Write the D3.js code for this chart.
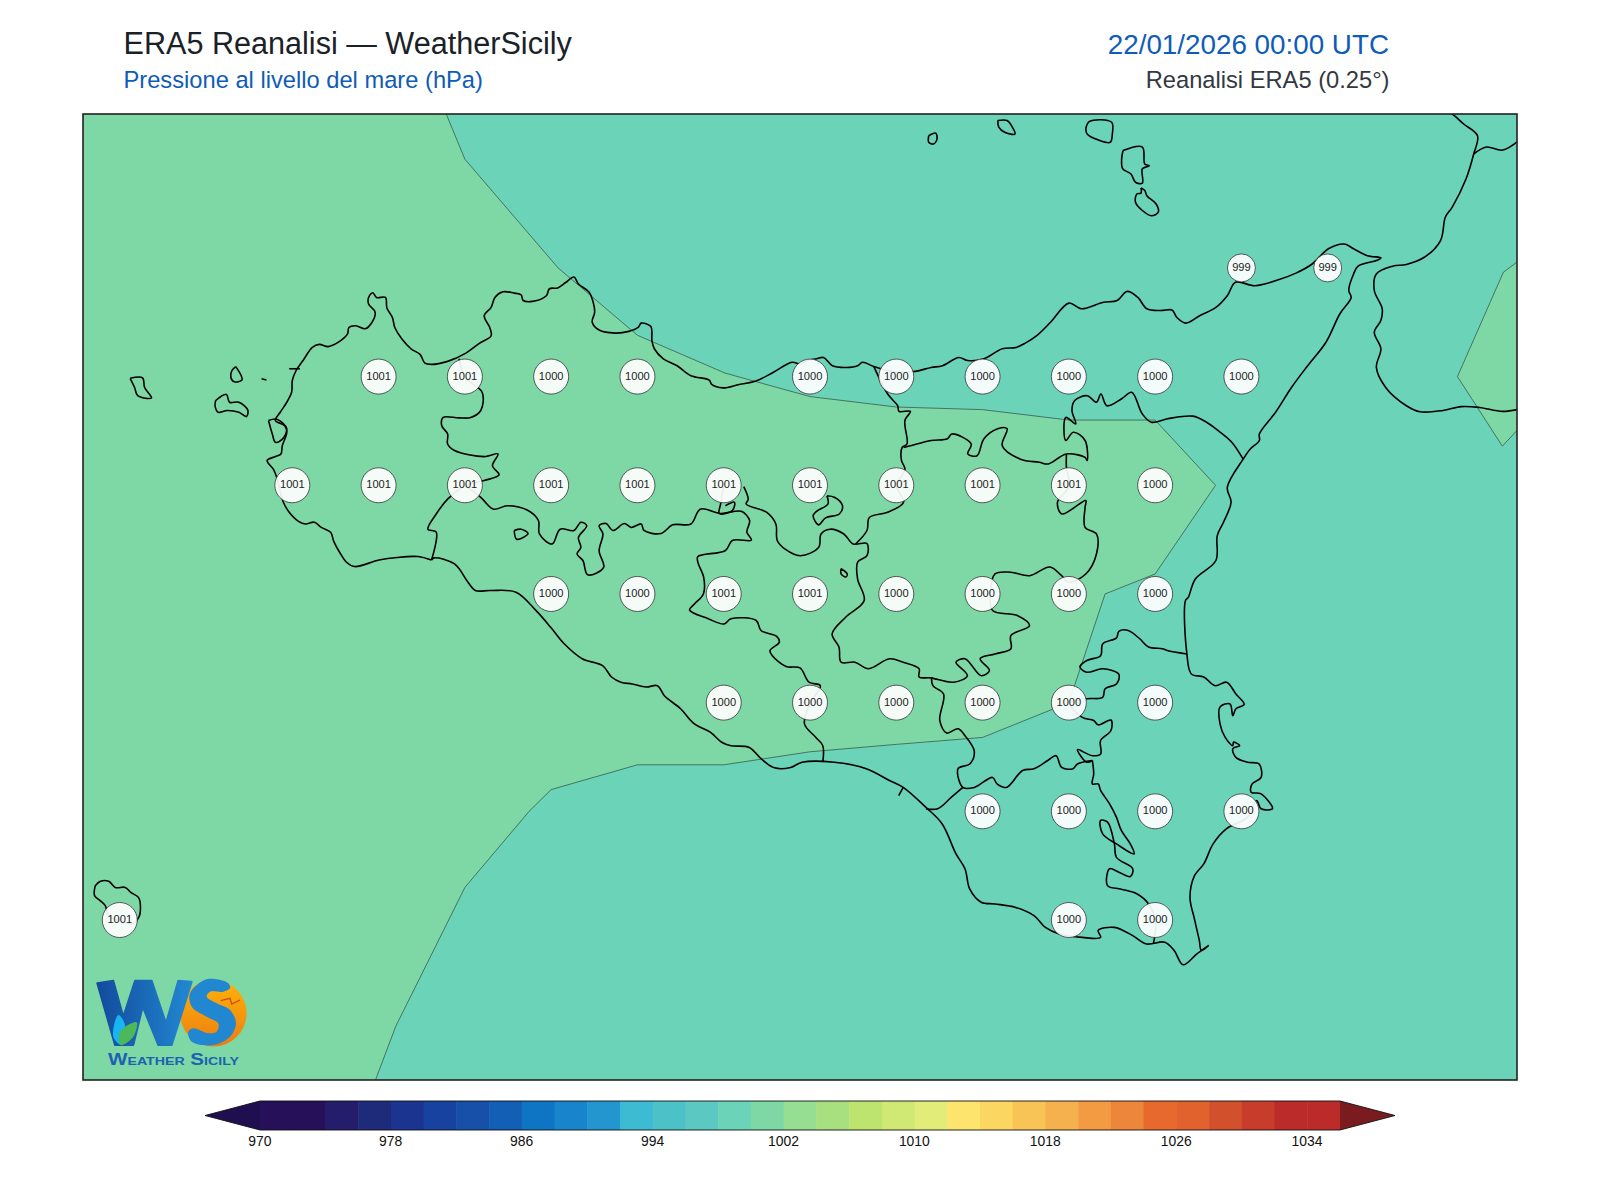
<!DOCTYPE html>
<html>
<head>
<meta charset="utf-8">
<title>ERA5 Reanalisi - WeatherSicily</title>
<script src="https://cdn.jsdelivr.net/npm/d3@7"></script>
<style>
  html, body { margin: 0; padding: 0; background: #fff; }
  text { font-family: "Liberation Sans", Arial, sans-serif; }
</style>
</head>
<body>
<div id="chart"></div>
<script>
// pressure labels on the 0.25 deg grid
const labelLats = [38.25, 38.25,
  38, 38, 38, 38, 38, 38, 38, 38, 38, 38,
  37.75, 37.75, 37.75, 37.75, 37.75, 37.75, 37.75, 37.75, 37.75, 37.75, 37.75,
  37.5, 37.5, 37.5, 37.5, 37.5, 37.5, 37.5, 37.5,
  37.25, 37.25, 37.25, 37.25, 37.25, 37.25,
  37, 37, 37, 37,
  36.75, 36.75, 36.75]
const labelLons = [15.25, 15.5,
  12.75, 13, 13.25, 13.5, 14, 14.25, 14.5, 14.75, 15, 15.25,
  12.5, 12.75, 13, 13.25, 13.5, 13.75, 14, 14.25, 14.5, 14.75, 15,
  13.25, 13.5, 13.75, 14, 14.25, 14.5, 14.75, 15,
  13.75, 14, 14.25, 14.5, 14.75, 15,
  14.5, 14.75, 15, 15.25,
  12, 14.75, 15]
const labelValues = [999, 999,
  1001, 1001, 1000, 1000, 1000, 1000, 1000, 1000, 1000, 1000,
  1001, 1001, 1001, 1001, 1001, 1001, 1001, 1001, 1001, 1001, 1000,
  1000, 1000, 1001, 1001, 1000, 1000, 1000, 1000,
  1000, 1000, 1000, 1000, 1000, 1000,
  1000, 1000, 1000, 1000,
  1001, 1000, 1000]

// 1000 hPa contour, the band above it
const contourWest = [[12.947,38.7],[12.947,38.602],[13,38.5],[13.27,38.25],[13.5,38.095],[13.754,38.008],[14,37.954],[14.25,37.93],[14.5,37.924],[14.75,37.9],[15,37.9],[15.175,37.75],[15,37.546],[14.855,37.5],[14.75,37.25],[14.5,37.17],[14.25,37.154],[14,37.137],[13.75,37.107],[13.5,37.107],[13.25,37.05],[13.186,37],[13,36.825],[12.8,36.506],[12.74,36.38],[12.72,36.3],[11.7,36.3],[11.7,38.7]]
const contourEast = [[16.2,38.35],[16.053,38.266],[16.009,38.24],[15.876,38],[16.006,37.84],[16.053,37.88],[16.2,38]]

const coastSicily = [[12.903,37.578],[12.864,37.586],[12.804,37.584],[12.751,37.578],[12.68,37.563],[12.657,37.573],[12.637,37.596],[12.62,37.621],[12.611,37.642],[12.584,37.653],[12.564,37.665],[12.538,37.661],[12.518,37.667],[12.491,37.688],[12.474,37.711],[12.455,37.768],[12.445,37.787],[12.427,37.807],[12.451,37.816],[12.467,37.822],[12.471,37.841],[12.484,37.872],[12.478,37.887],[12.451,37.899],[12.465,37.918],[12.484,37.941],[12.498,37.964],[12.5,37.991],[12.511,38.014],[12.531,38.037],[12.558,38.067],[12.578,38.074],[12.604,38.069],[12.637,38.081],[12.66,38.098],[12.664,38.113],[12.684,38.117],[12.711,38.11],[12.731,38.125],[12.74,38.148],[12.721,38.167],[12.721,38.182],[12.733,38.193],[12.744,38.182],[12.77,38.182],[12.774,38.158],[12.79,38.136],[12.797,38.113],[12.817,38.087],[12.844,38.064],[12.87,38.051],[12.884,38.031],[12.903,38.028],[12.95,38.035],[13.003,38.054],[13.043,38.077],[13.076,38.094],[13.072,38.113],[13.056,38.14],[13.076,38.159],[13.087,38.182],[13.11,38.195],[13.143,38.192],[13.163,38.188],[13.169,38.175],[13.196,38.173],[13.236,38.186],[13.245,38.202],[13.269,38.204],[13.293,38.217],[13.316,38.229],[13.329,38.213],[13.36,38.194],[13.373,38.167],[13.376,38.148],[13.369,38.125],[13.389,38.107],[13.435,38.1],[13.475,38.104],[13.502,38.113],[13.511,38.123],[13.539,38.115],[13.542,38.083],[13.549,38.064],[13.575,38.041],[13.615,38.025],[13.655,38.002],[13.708,37.992],[13.715,37.982],[13.748,37.974],[13.795,37.982],[13.841,37.989],[13.894,38.01],[13.948,38.033],[13.972,38.029],[13.992,38.037],[14.019,38.041],[14.039,38.044],[14.065,38.025],[14.105,38.021],[14.138,38.025],[14.152,38.033],[14.185,38.023],[14.218,38.015],[14.251,38.01],[14.305,38.012],[14.351,38.021],[14.384,38.025],[14.431,38.044],[14.457,38.037],[14.504,38.041],[14.557,38.064],[14.597,38.067],[14.624,38.077],[14.657,38.094],[14.697,38.125],[14.75,38.169],[14.786,38.156],[14.85,38.171],[14.89,38.175],[14.919,38.196],[14.95,38.182],[14.976,38.156],[15.016,38.152],[15.049,38.153],[15.063,38.136],[15.089,38.123],[15.129,38.14],[15.176,38.159],[15.209,38.186],[15.233,38.217],[15.289,38.209],[15.355,38.222],[15.408,38.238],[15.455,38.259],[15.502,38.294],[15.548,38.305],[15.575,38.294],[15.615,38.278],[15.654,38.273],[15.641,38.267],[15.588,38.254],[15.575,38.236],[15.561,38.198],[15.568,38.182],[15.535,38.144],[15.495,38.079],[15.442,38.025],[15.395,37.975],[15.349,37.918],[15.302,37.868],[15.302,37.853],[15.275,37.833],[15.255,37.81],[15.209,37.745],[15.22,37.711],[15.198,37.665],[15.18,37.634],[15.176,37.577],[15.116,37.534],[15.096,37.492],[15.088,37.485],[15.092,37.362],[15.105,37.316],[15.141,37.309],[15.174,37.289],[15.207,37.297],[15.234,37.27],[15.258,37.246],[15.234,37.236],[15.225,37.22],[15.217,37.247],[15.188,37.24],[15.188,37.201],[15.203,37.17],[15.225,37.151],[15.227,37.159],[15.245,37.151],[15.225,37.144],[15.234,37.124],[15.267,37.113],[15.301,37.109],[15.307,37.078],[15.281,37.063],[15.278,37.044],[15.307,37.04],[15.34,37.006],[15.307,37.006],[15.294,37.025],[15.267,36.986],[15.207,36.96],[15.168,36.925],[15.141,36.879],[15.114,36.852],[15.101,36.802],[15.114,36.752],[15.128,36.703],[15.134,36.68],[15.154,36.691],[15.121,36.672],[15.081,36.647],[15.055,36.68],[15.028,36.699],[14.975,36.695],[14.935,36.714],[14.882,36.733],[14.835,36.726],[14.842,36.71],[14.789,36.71],[14.722,36.718],[14.682,36.733],[14.649,36.76],[14.596,36.779],[14.536,36.787],[14.496,36.791],[14.463,36.821],[14.449,36.868],[14.423,36.902],[14.383,36.971],[14.336,37.009],[14.27,37.055],[14.23,37.071],[14.163,37.098],[14.07,37.113],[13.977,37.113],[13.944,37.101],[13.897,37.1],[13.858,37.121],[13.824,37.147],[13.771,37.151],[13.744,37.159],[13.711,37.182],[13.665,37.201],[13.625,37.236],[13.578,37.266],[13.558,37.289],[13.525,37.286],[13.485,37.293],[13.452,37.297],[13.425,37.309],[13.399,37.335],[13.34,37.351],[13.287,37.386],[13.251,37.421],[13.207,37.461],[13.148,37.504],[13.074,37.508],[13.03,37.508],[13.009,37.527],[12.97,37.569],[12.911,37.583],[12.903,37.578]]

const boundaryTrapani = [[12.983,38.041],[13.001,37.998],[13.05,37.964],[13.046,37.922],[13.017,37.906],[12.983,37.905],[12.937,37.906],[12.933,37.887],[12.95,37.868],[12.95,37.845],[12.97,37.83],[13.056,37.816],[13.096,37.822],[13.08,37.795],[13.099,37.774],[13.056,37.761],[13.001,37.749],[12.95,37.718],[12.917,37.684],[12.893,37.649],[12.917,37.642],[12.903,37.578]]
const boundaryAgrigento = [[13.001,37.749],[13.046,37.722],[13.083,37.695],[13.123,37.703],[13.183,37.692],[13.213,37.669],[13.216,37.638],[13.253,37.615],[13.276,37.649],[13.316,37.646],[13.336,37.665],[13.353,37.657],[13.329,37.63],[13.336,37.607],[13.325,37.592],[13.342,37.577],[13.356,37.544],[13.402,37.561],[13.389,37.599],[13.4,37.638],[13.389,37.657],[13.409,37.662],[13.429,37.646],[13.462,37.662],[13.482,37.653],[13.511,37.661],[13.519,37.646],[13.568,37.639],[13.602,37.659],[13.655,37.661],[13.682,37.695],[13.741,37.685],[13.801,37.69],[13.825,37.669],[13.817,37.642],[13.83,37.624],[13.775,37.623],[13.755,37.6],[13.675,37.586],[13.675,37.573],[13.692,37.538],[13.691,37.5],[13.665,37.477],[13.651,37.463],[13.705,37.443],[13.751,37.431],[13.771,37.443],[13.844,37.439],[13.858,37.416],[13.904,37.402],[13.911,37.389],[13.884,37.37],[13.891,37.358],[13.931,37.333],[13.971,37.33],[13.997,37.297],[14.03,37.289],[14.001,37.249],[13.984,37.201],[14.017,37.17],[14.037,37.151],[14.037,37.113]]
const boundaryStub = [[13.75,37.749],[13.741,37.707],[13.737,37.685],[13.775,37.692],[13.781,37.711],[13.755,37.703]]
const boundaryEnna = [[13.808,37.747],[13.821,37.718],[13.815,37.707],[13.874,37.688],[13.901,37.661],[13.905,37.623],[13.928,37.603],[13.972,37.588],[14.025,37.607],[14.032,37.638],[14.058,37.649],[14.098,37.638],[14.125,37.615],[14.165,37.616],[14.165,37.588],[14.138,37.573],[14.138,37.534],[14.157,37.485],[14.104,37.447],[14.064,37.408],[14.084,37.378],[14.09,37.343],[14.13,37.343],[14.17,37.328],[14.23,37.351],[14.27,37.343],[14.316,37.328],[14.316,37.309],[14.35,37.307],[14.416,37.297],[14.456,37.312],[14.423,37.343],[14.449,37.351],[14.496,37.312],[14.52,37.324],[14.493,37.351],[14.536,37.362],[14.582,37.374],[14.582,37.404],[14.636,37.427],[14.602,37.45],[14.529,37.462],[14.523,37.5],[14.536,37.546],[14.582,37.55],[14.636,37.542],[14.695,37.562],[14.729,37.542],[14.749,37.527],[14.799,37.546],[14.83,37.592],[14.83,37.638],[14.797,37.653],[14.797,37.699],[14.799,37.715],[14.73,37.684],[14.717,37.711],[14.751,37.749],[14.743,37.791],[14.743,37.822]]
const boundaryMadonie = [[14.185,38.023],[14.225,37.96],[14.254,37.933],[14.258,37.92],[14.291,37.92],[14.275,37.899],[14.281,37.845],[14.267,37.837],[14.265,37.807],[14.275,37.787],[14.251,37.749],[14.271,37.711],[14.225,37.688],[14.172,37.676],[14.165,37.646],[14.132,37.615]]
const boundaryMessina = [[14.271,37.837],[14.291,37.841],[14.351,37.853],[14.398,37.857],[14.411,37.868],[14.467,37.845],[14.457,37.822],[14.484,37.818],[14.504,37.857],[14.544,37.88],[14.571,37.88],[14.557,37.841],[14.61,37.81],[14.664,37.803],[14.69,37.799],[14.743,37.822],[14.797,37.814],[14.803,37.807],[14.797,37.853],[14.763,37.872],[14.741,37.853],[14.741,37.906],[14.77,37.891],[14.759,37.922],[14.767,37.945],[14.803,37.956],[14.83,37.941],[14.843,37.96],[14.86,37.933],[14.903,37.949],[14.932,37.964],[14.963,37.914],[14.989,37.895],[15.036,37.903],[15.109,37.909],[15.149,37.895],[15.182,37.876],[15.222,37.849],[15.255,37.81]]
const boundarySiracusa = [[15.092,37.362],[15.035,37.37],[15.021,37.374],[14.981,37.378],[14.955,37.397],[14.922,37.416],[14.895,37.414],[14.888,37.399],[14.848,37.385],[14.842,37.358],[14.802,37.347],[14.782,37.332],[14.802,37.32],[14.848,37.328],[14.895,37.315],[14.888,37.293],[14.855,37.282],[14.848,37.262],[14.802,37.259],[14.751,37.249],[14.789,37.216],[14.822,37.209],[14.835,37.199],[14.872,37.21],[14.872,37.186],[14.842,37.163],[14.842,37.132],[14.818,37.128],[14.775,37.142],[14.802,37.113],[14.818,37.117]]
const boundaryGela = [[14.818,37.117],[14.775,37.109],[14.762,37.098],[14.729,37.101],[14.713,37.128],[14.689,37.117],[14.649,37.098],[14.616,37.094],[14.569,37.055],[14.542,37.063],[14.529,37.078],[14.476,37.055],[14.443,37.055],[14.429,37.098],[14.463,37.109],[14.476,37.138],[14.449,37.174],[14.429,37.19],[14.396,37.18],[14.376,37.209],[14.387,37.27],[14.356,37.289],[14.352,37.309]]
const boundaryDirillo = [[14.443,37.055],[14.409,37.032],[14.37,37.006],[14.336,37.006]]
const boundaryRagusa = [[14.818,37.117],[14.822,37.086],[14.818,37.063],[14.835,37.063],[14.842,37.048],[14.868,37.017],[14.888,36.986],[14.902,36.956],[14.928,36.925],[14.939,36.902],[14.888,36.925],[14.848,36.948],[14.842,36.979],[14.862,36.975],[14.882,36.925],[14.888,36.894],[14.935,36.868],[14.928,36.85],[14.895,36.86],[14.868,36.868],[14.862,36.829],[14.902,36.821],[14.948,36.81],[14.981,36.787],[15.001,36.747],[14.995,36.695]]
const tickGela = [[14.257,37.036],[14.27,37.055]]
const trapaniSalt = [[12.491,38.018],[12.522,38.018]]
const formica = [[12.411,37.995],[12.425,37.992]]

const marettimo = [[12.03,37.996],[12.066,37.997],[12.072,37.975],[12.092,37.951],[12.052,37.956],[12.043,37.975],[12.03,37.996]]
const levanzo = [[12.336,38.023],[12.352,38.002],[12.354,37.992],[12.332,37.988],[12.322,37.998],[12.325,38.014],[12.336,38.023]]
const favignana = [[12.278,37.945],[12.309,37.959],[12.318,37.941],[12.345,37.941],[12.371,37.923],[12.367,37.908],[12.345,37.918],[12.312,37.922],[12.285,37.918],[12.276,37.933],[12.278,37.945]]
const stagnone = [[12.431,37.899],[12.455,37.902],[12.484,37.88],[12.471,37.856],[12.451,37.849],[12.442,37.868],[12.431,37.899]]
const lakeArancio = [[13.143,37.646],[13.163,37.649],[13.183,37.639],[13.15,37.626],[13.143,37.646]]
const lakePozzillo = [[14.09,37.558],[14.108,37.546],[14.104,37.539],[14.09,37.546],[14.09,37.558]]
const enclave = [[14.049,37.726],[14.072,37.722],[14.094,37.703],[14.085,37.684],[14.045,37.675],[14.025,37.659],[14.009,37.68],[14.019,37.69],[14.052,37.707],[14.049,37.726]]
const alicudi = [[14.344,38.554],[14.364,38.56],[14.368,38.547],[14.358,38.535],[14.344,38.539],[14.344,38.554]]
const filicudi = [[14.544,38.589],[14.571,38.589],[14.586,38.574],[14.594,38.558],[14.564,38.562],[14.547,38.574],[14.544,38.589]]
const salina = [[14.799,38.57],[14.81,38.587],[14.874,38.585],[14.876,38.558],[14.87,38.539],[14.836,38.544],[14.803,38.558],[14.799,38.57]]
const lipari = [[14.907,38.52],[14.963,38.528],[14.97,38.489],[14.983,38.485],[14.963,38.478],[14.963,38.445],[14.943,38.447],[14.93,38.466],[14.906,38.478],[14.903,38.501],[14.907,38.52]]
const vulcano = [[14.959,38.434],[14.97,38.428],[14.976,38.416],[15.003,38.397],[15.009,38.378],[14.989,38.37],[14.963,38.382],[14.943,38.401],[14.947,38.42],[14.959,38.422],[14.959,38.434]]
const pantelleria = [[11.929,36.829],[11.944,36.839],[11.968,36.839],[11.987,36.825],[12.016,36.825],[12.031,36.814],[12.055,36.801],[12.06,36.779],[12.055,36.756],[12.036,36.741],[12.002,36.748],[11.968,36.76],[11.958,36.783],[11.944,36.794],[11.927,36.806],[11.929,36.829]]

const coastCalabria = [[15.847,38.612],[15.867,38.6],[15.894,38.581],[15.934,38.554],[15.923,38.512],[15.901,38.455],[15.861,38.39],[15.841,38.367],[15.827,38.313],[15.781,38.275],[15.728,38.258],[15.688,38.254],[15.641,38.236],[15.635,38.198],[15.658,38.156],[15.654,38.129],[15.635,38.102],[15.654,38.064],[15.641,38.021],[15.668,37.975],[15.728,37.933],[15.768,37.919],[15.834,37.922],[15.887,37.931],[15.94,37.929],[16.007,37.92],[16.06,37.926]]
const boundaryCalabria = [[15.923,38.512],[15.96,38.528],[16.007,38.521],[16.06,38.547]]

const mapLines = [coastSicily, boundaryTrapani, boundaryAgrigento, boundaryStub, boundaryEnna, boundaryMadonie,
  boundaryMessina, boundarySiracusa, boundaryGela, boundaryDirillo, boundaryRagusa, tickGela, trapaniSalt, formica,
  marettimo, levanzo, favignana, stagnone, lakeArancio, lakePozzillo, enclave,
  alicudi, filicudi, salina, lipari, vulcano, pantelleria, coastCalabria, boundaryCalabria]

// colorbar levels and colors
const levels = d3.range(970, 1038, 2)
const tickValues = [970, 978, 986, 994, 1002, 1010, 1018, 1026, 1034]
const bandColors = ["#26105a", "#26105a", "#231d6c", "#1e2a7a", "#1b3490", "#18429f", "#1650a8", "#125fb5", "#0e75c5",
  "#1884cb", "#2396cf", "#3cbbd3", "#4dc1c8", "#5bc9c1", "#6bd3b7", "#7ed8a6", "#96de92", "#a8e07f", "#bce46f",
  "#d0e975", "#e1ec79", "#fce46d", "#fbd660", "#f8c455", "#f5b14d", "#f29b42", "#ed853a", "#e7692e", "#e1622c",
  "#d2512c", "#c83c2b", "#ba2b2a", "#ba2b2a"]
const underColor = "#1f0f50"
const overColor = "#7a1c1f"

const WIDTH = 1600
const HEIGHT = 1200
const MAP = {LEFT: 83, RIGHT: 1517, TOP: 114, BOTTOM: 1080}
const BAR = {LEFT: 260, RIGHT: 1340, TOP: 1101, BOTTOM: 1130, TIP: 55}

const svg = d3.select("#chart").append("svg")
  .attr("width", WIDTH)
  .attr("height", HEIGHT)
  .style("display", "block")

// titles
const addText = (x, y, str, size, color, anchor) => svg.append("text")
  .attr("x", x).attr("y", y)
  .attr("font-size", size)
  .attr("fill", color)
  .attr("text-anchor", anchor)
  .text(str)

addText(123.5, 54, "ERA5 Reanalisi — WeatherSicily", 30.6, "#1a2228", "start")
addText(123.5, 88, "Pressione al livello del mare (hPa)", 23.7, "#0f5cb8", "start")
addText(1389, 54, "22/01/2026 00:00 UTC", 27.8, "#0f5cb8", "end")
addText(1389.5, 88, "Reanalisi ERA5 (0.25°)", 23.7, "#33393f", "end")

// map scales
const x = d3.scaleLinear().domain([11.8935, 16.0485]).range([MAP.LEFT, MAP.RIGHT])
const y = d3.scaleLinear().domain([38.604, 36.382]).range([MAP.TOP, MAP.BOTTOM])
const color = d3.scaleThreshold().domain(levels.slice(1)).range(bandColors)
const line = d3.line().x(d => x(d[0])).y(d => y(d[1]))
const coastLine = d3.line().x(d => x(d[0])).y(d => y(d[1])).curve(d3.curveCatmullRom.alpha(0.5))

svg.append("clipPath").attr("id", "map-clip")
  .append("rect")
  .attr("x", MAP.LEFT).attr("y", MAP.TOP)
  .attr("width", MAP.RIGHT - MAP.LEFT).attr("height", MAP.BOTTOM - MAP.TOP)

const map = svg.append("g").attr("clip-path", "url(#map-clip)")

map.append("rect")
  .attr("x", MAP.LEFT).attr("y", MAP.TOP)
  .attr("width", MAP.RIGHT - MAP.LEFT).attr("height", MAP.BOTTOM - MAP.TOP)
  .attr("fill", color(998))

map.selectAll(".band")
  .data([contourWest, contourEast])
  .enter().append("path")
  .attr("class", "band")
  .attr("d", d => line(d) + "Z")
  .attr("fill", color(1000))
  .attr("stroke", "#2f4a40")
  .attr("stroke-width", 0.7)

map.selectAll(".coast")
  .data(mapLines)
  .enter().append("path")
  .attr("class", "coast")
  .attr("d", coastLine)
  .attr("fill", "none")
  .attr("stroke", "#000")
  .attr("stroke-width", 1.6)
  .attr("stroke-linejoin", "round")

// pressure labels
const labels = map.selectAll(".label")
  .data(labelValues)
  .enter().append("g")
  .attr("class", "label")
  .attr("transform", (d, i) => `translate(${x(labelLons[i])}, ${y(labelLats[i])})`)

labels.append("circle")
  .attr("r", d => d < 1000 ? 14 : 17.5)
  .attr("fill", "#fff")
  .attr("fill-opacity", 0.92)
  .attr("stroke", "#333")
  .attr("stroke-width", 0.8)

labels.append("text")
  .attr("text-anchor", "middle")
  .attr("y", -0.5)
  .attr("dy", "0.32em")
  .attr("font-size", 11.1)
  .attr("fill", "#222")
  .text(d => d)

// logo
const logo = svg.append("g")
const defs = svg.append("defs")
const grad = defs.append("linearGradient").attr("id", "ws-blue")
grad.append("stop").attr("offset", "0%").attr("stop-color", "#134a9c")
grad.append("stop").attr("offset", "100%").attr("stop-color", "#2288d2")
const sun = defs.append("linearGradient").attr("id", "ws-sun").attr("x1", 0).attr("x2", 0).attr("y1", 0).attr("y2", 1)
sun.append("stop").attr("offset", "0%").attr("stop-color", "#ffb30a")
sun.append("stop").attr("offset", "100%").attr("stop-color", "#ec7d10")

const sShape = [[228.3,983.3],[206.7,979.3],[190,993.3],[191.7,1006.7],[206.7,1016.7],[218.3,1023.3],[216.7,1031.7],[208.3,1033.3],[193.3,1028.3],[188.3,1031.7],[191.7,1041.7],[213.3,1045],[230,1036.7],[236,1023.3],[230,1010],[216.7,1003.3],[206.7,996.7],[210,991.7],[223.3,991.7],[230,988.3]]
const wShape = [[97.3,983.3],[113.3,980.7],[123.3,1016.7],[135,980.7],[151.7,980.7],[166,1023.3],[178.3,980.7],[191.7,981.7],[171.7,1045],[158.3,1045],[142.7,1006.7],[133.3,1045],[115,1045]]

logo.append("circle")
  .attr("cx", 213.3).attr("cy", 1013.3).attr("r", 33.3)
  .attr("fill", "url(#ws-sun)")
logo.append("path")
  .attr("d", d3.line().curve(d3.curveCatmullRomClosed)(sShape))
  .attr("fill", "#2187d0")
logo.append("path")
  .attr("d", d3.line()(wShape) + "Z")
  .attr("fill", "url(#ws-blue)")
  .attr("stroke", "url(#ws-blue)")
  .attr("stroke-width", 2)
  .attr("stroke-linejoin", "round")
logo.append("path")
  .attr("d", d3.line().curve(d3.curveCatmullRomClosed)([[118.3,1015],[113.3,1036.7],[121.7,1045],[125,1025]]))
  .attr("fill", "#19b5f2")
logo.append("path")
  .attr("d", d3.line().curve(d3.curveCatmullRomClosed)([[136.7,1022.3],[120,1031.7],[120.7,1045],[133.3,1036.7]]))
  .attr("fill", "#4db85a")
logo.append("path")
  .attr("d", d3.line()([[220.7,1000.7],[230,998.3],[231.7,1004],[240,1000]]))
  .attr("fill", "none")
  .attr("stroke", "#c8501a")
  .attr("stroke-width", 1.3)
logo.append("text")
  .attr("x", 108).attr("y", 1065)
  .attr("font-size", 16)
  .attr("font-weight", "bold")
  .attr("fill", "#1b62b0")
  .attr("textLength", 131)
  .attr("lengthAdjust", "spacingAndGlyphs")
  .style("font-variant", "small-caps")
  .text("Weather Sicily")

// frame goes on top
svg.append("rect")
  .attr("x", MAP.LEFT).attr("y", MAP.TOP)
  .attr("width", MAP.RIGHT - MAP.LEFT).attr("height", MAP.BOTTOM - MAP.TOP)
  .attr("fill", "none")
  .attr("stroke", "#222")
  .attr("stroke-width", 1.6)

// colorbar
const barX = d3.scaleLinear().domain([970, 1036]).range([BAR.LEFT, BAR.RIGHT])
const bar = svg.append("g")

bar.selectAll("rect")
  .data(levels.slice(0, -1))
  .enter().append("rect")
  .attr("x", d => barX(d))
  .attr("y", BAR.TOP)
  .attr("width", d => barX(d + 2) - barX(d) + 0.5)
  .attr("height", BAR.BOTTOM - BAR.TOP)
  .attr("fill", d => color(d))

const midY = (BAR.TOP + BAR.BOTTOM) / 2
bar.append("path")
  .attr("d", `M ${BAR.LEFT} ${BAR.TOP} L ${BAR.LEFT - BAR.TIP} ${midY} L ${BAR.LEFT} ${BAR.BOTTOM} Z`)
  .attr("fill", underColor)
bar.append("path")
  .attr("d", `M ${BAR.RIGHT} ${BAR.TOP} L ${BAR.RIGHT + BAR.TIP} ${midY} L ${BAR.RIGHT} ${BAR.BOTTOM} Z`)
  .attr("fill", overColor)
bar.append("path")
  .attr("d", `M ${BAR.LEFT} ${BAR.TOP} L ${BAR.LEFT - BAR.TIP} ${midY} L ${BAR.LEFT} ${BAR.BOTTOM} L ${BAR.RIGHT} ${BAR.BOTTOM} L ${BAR.RIGHT + BAR.TIP} ${midY} L ${BAR.RIGHT} ${BAR.TOP} Z`)
  .attr("fill", "none")
  .attr("stroke", "#111")
  .attr("stroke-width", 0.9)

const barAxis = d3.axisBottom(barX).tickValues(tickValues).tickFormat(d3.format("d")).tickSize(0).tickPadding(6)
const barAxisGroup = svg.append("g")
  .attr("transform", "translate(-0.7, " + BAR.BOTTOM + ")")
  .call(barAxis)
barAxisGroup.select(".domain").remove()
barAxisGroup.selectAll("text")
  .attr("font-size", 13.9)
  .attr("font-family", "Liberation Sans, Arial, sans-serif")
  .attr("fill", "#111")
</script>
</body>
</html>
